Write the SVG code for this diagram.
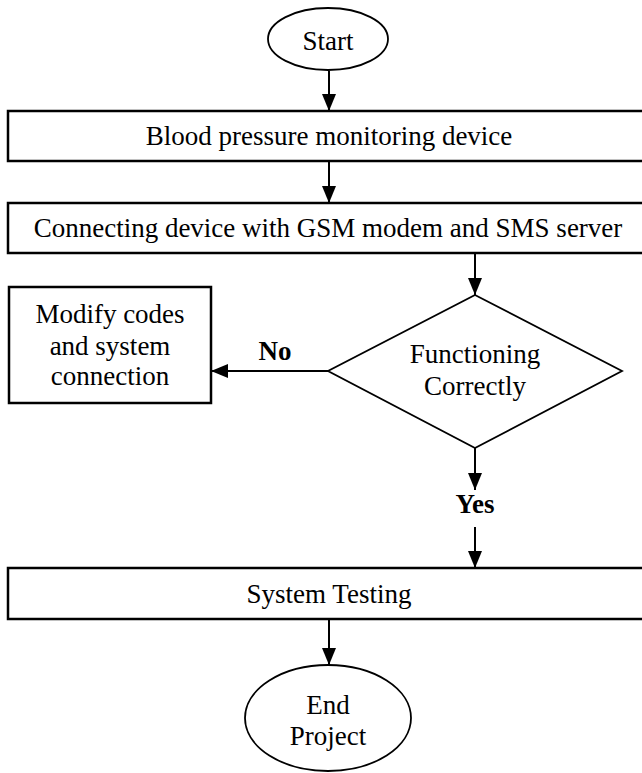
<svg xmlns="http://www.w3.org/2000/svg" width="642" height="773" viewBox="0 0 642 773">
<style>
.s{fill:#fff;stroke:#000;stroke-width:2.5}
.d{fill:#fff;stroke:#000;stroke-width:1.8}
.t{font-family:"Liberation Serif","Times New Roman",serif;font-size:27px;fill:#000;text-anchor:middle}
.b{font-weight:bold}
.c{stroke:#000;stroke-width:2;fill:none;marker-end:url(#ah)}
</style>
<defs>
<marker id="ah" markerWidth="17" markerHeight="14" refX="17" refY="7" orient="auto" markerUnits="userSpaceOnUse" viewBox="0 0 17 14">
<path d="M0,0 L17,7 L0,14 Z" fill="#000"/>
</marker>
</defs>
<rect width="642" height="773" fill="#fff"/>
<g id="connectors">
<line class="c" x1="329" y1="71" x2="329" y2="111"/>
<line class="c" x1="329" y1="161" x2="329" y2="203"/>
<line class="c" x1="475" y1="253" x2="475" y2="295"/>
<line class="c" x1="328" y1="371" x2="211" y2="371"/>
<line class="c" x1="475" y1="448" x2="475" y2="490"/>
<line class="c" x1="475" y1="527" x2="475" y2="568"/>
<line class="c" x1="329" y1="619" x2="329" y2="665"/>
<text class="t b" x="275" y="360">No</text>
<text class="t b" x="475" y="513">Yes</text>
</g>
<g id="start">
<ellipse class="d" cx="328" cy="39" rx="60" ry="31"/>
<text class="t" x="328" y="50">Start</text>
</g>
<g id="device">
<rect class="s" x="8" y="111" width="650" height="50"/>
<text class="t" x="329" y="145">Blood pressure monitoring device</text>
</g>
<g id="connect">
<rect class="s" x="8" y="203" width="650" height="50"/>
<text class="t" x="328" y="237">Connecting device with GSM modem and SMS server</text>
</g>
<g id="decision">
<polygon class="d" points="475,295 622,371 475,448 328,371"/>
<text class="t" x="475" y="363">Functioning</text>
<text class="t" x="475" y="395">Correctly</text>
</g>
<g id="modify">
<rect class="s" x="9" y="287" width="202" height="116"/>
<text class="t" x="110" y="323">Modify codes</text>
<text class="t" x="110" y="355">and system</text>
<text class="t" x="110" y="385">connection</text>
</g>
<g id="testing">
<rect class="s" x="8" y="568" width="650" height="51"/>
<text class="t" x="329" y="603">System Testing</text>
</g>
<g id="end">
<ellipse class="d" cx="328" cy="718" rx="83" ry="53"/>
<text class="t" x="328" y="714">End</text>
<text class="t" x="328" y="745">Project</text>
</g>
</svg>
